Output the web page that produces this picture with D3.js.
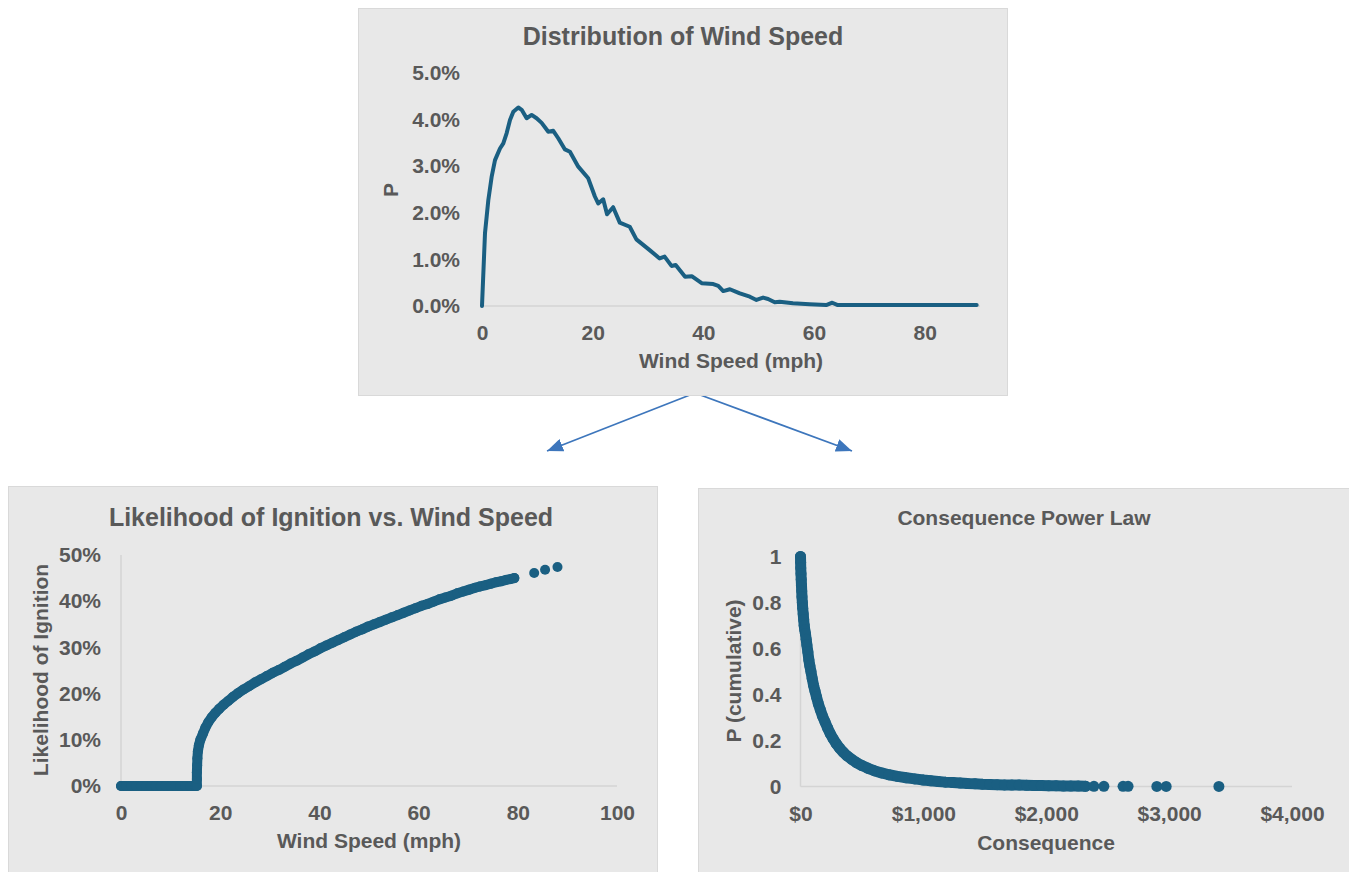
<!DOCTYPE html>
<html>
<head>
<meta charset="utf-8">
<script src="https://cdn.jsdelivr.net/npm/d3@7"></script>
<style>
body { margin: 0; background: #fff; }
svg text { font-family: "Liberation Sans", Arial, sans-serif; font-weight: bold; }
</style>
</head>
<body>
<script>
var w = 1349;
var h = 872;

var textColor = "#595959";
var panelFill = "#e8e8e8";
var panelStroke = "#d9d9d9";
var gridColor = "#d4d4d4";
var markColor = "#1a5f82";
var arrowColor = "#3d76bc";

// distribution of wind speed (P in %)
var windSpeed = [0, 0.54, 1.14, 1.74, 2.35, 3.25, 3.85, 4.46, 5.06, 5.66,
	6.56, 7.17, 8.07, 8.97, 9.87, 10.78, 11.98, 12.88, 13.78, 14.99,
	15.89, 17.4, 19.2, 20.4, 21.0, 21.9, 22.6, 23.7, 24.9, 26.7,
	27.9, 30.3, 32.1, 33.0, 34.25, 35.0, 36.7, 37.9, 39.7, 41.8,
	42.7, 43.6, 44.8, 46.6, 48.4, 49.6, 50.8, 51.7, 52.9, 53.8,
	56.2, 59.2, 62.2, 63.3, 64.3, 68.3, 75, 80, 85, 89.4];
var windP = [0, 1.56, 2.27, 2.77, 3.13, 3.38, 3.49, 3.71, 3.99, 4.17,
	4.26, 4.21, 4.03, 4.10, 4.03, 3.93, 3.74, 3.76, 3.60, 3.36,
	3.31, 2.99, 2.74, 2.35, 2.20, 2.29, 1.97, 2.12, 1.79, 1.70,
	1.43, 1.20, 1.02, 1.06, 0.86, 0.88, 0.63, 0.64, 0.49, 0.47,
	0.43, 0.32, 0.36, 0.27, 0.20, 0.13, 0.18, 0.15, 0.08, 0.09,
	0.06, 0.04, 0.02, 0.07, 0.02, 0.02, 0.02, 0.02, 0.02, 0.02];
var windTicks = [0, 20, 40, 60, 80];
var distTicks = [0, 1, 2, 3, 4, 5];

// likelihood of ignition (%)
var ignitionSpeed = [0, 1, 2, 3, 4, 5, 6, 7, 8, 9, 10, 11, 12, 13, 14, 15,
	15.3, 15.3, 15.3, 15.35, 15.4, 15.5, 15.7,
	16, 16.5, 17, 17.6, 18.3, 19, 19.8, 20.7, 21.6, 22.6,
	23.6, 24.7, 25.8, 27, 28.2, 29.4, 30.6, 31.8, 33, 34.2,
	35.4, 36.6, 37.8, 39, 40.2, 41.4, 42.6, 43.8, 45, 46.2,
	47.4, 48.6, 49.8, 51, 52.2, 53.4, 54.6, 55.8, 57, 58.2,
	59.4, 60.6, 61.8, 63, 64.2, 65.4, 66.6, 67.8, 69, 70.2,
	71.4, 72.4,
	73.6, 74.6, 75.6, 76.6, 77.6, 78.5, 79.3,
	83.3, 85.5, 88];
var ignitionLikelihood = [0, 0, 0, 0, 0, 0, 0, 0, 0, 0, 0, 0, 0, 0, 0, 0,
	0, 1.5, 3, 4.5, 6, 7.5, 8.8,
	10, 11.3, 12.6, 13.8, 14.9, 15.8, 16.7, 17.6, 18.4, 19.3,
	20.1, 20.9, 21.6, 22.4, 23.1, 23.8, 24.5, 25.1, 25.8, 26.5,
	27.1, 27.8, 28.5, 29.1, 29.8, 30.4, 31.0, 31.6, 32.2, 32.8,
	33.4, 33.9, 34.5, 35.0, 35.5, 36.0, 36.5, 37.0, 37.5, 38.0,
	38.5, 39.0, 39.4, 39.9, 40.4, 40.8, 41.2, 41.7, 42.1, 42.5,
	42.9, 43.2,
	43.5, 43.8, 44.1, 44.3, 44.6, 44.8, 45.0,
	46.1, 46.8, 47.4];
var ignitionXTicks = [0, 20, 40, 60, 80, 100];
var ignitionYTicks = [0, 10, 20, 30, 40, 50];
var ignitionDense = 82; // points up to here overlap into a solid band

// consequence power law
var consequence = [0, 1, 2, 4, 6, 8, 10, 12, 15, 18,
	22, 26, 30, 35, 40, 46, 52, 60, 68, 76,
	85, 95, 106, 118, 130, 145, 162, 180, 200, 220,
	242, 265, 290, 318, 348, 380, 415, 455, 500, 550,
	600, 660, 720, 790, 860, 930, 1000, 1060, 1120, 1180,
	1240, 1300, 1360, 1420, 1480, 1540, 1600, 1660, 1720, 1780,
	1840, 1900, 1960, 2020, 2080, 2140, 2200, 2260, 2320, 2388,
	2469, 2625, 2666, 2900, 2976, 3405];
var cumulativeP = [1.00, 0.975, 0.95, 0.925, 0.90, 0.875, 0.85, 0.825, 0.80, 0.775,
	0.75, 0.725, 0.70, 0.68, 0.665, 0.64, 0.615, 0.585, 0.55, 0.525,
	0.50, 0.47, 0.44, 0.415, 0.39, 0.36, 0.333, 0.305, 0.28, 0.255,
	0.23, 0.208, 0.187, 0.167, 0.149, 0.133, 0.119, 0.104, 0.091, 0.079,
	0.069, 0.059, 0.051, 0.044, 0.038, 0.033, 0.028, 0.025, 0.022, 0.019,
	0.017, 0.015, 0.013, 0.012, 0.010, 0.009, 0.008, 0.007, 0.006, 0.006,
	0.005, 0.004, 0.004, 0.003, 0.003, 0.002, 0.002, 0.002, 0.001, 0.001,
	0.001, 0.001, 0.001, 0.0005, 0.0005, 0.0003];
var consequenceTicks = [0, 1000, 2000, 3000, 4000];
var cumulativeTicks = [0, 0.2, 0.4, 0.6, 0.8, 1];
var consequenceDense = 69;

var svg = d3.select("body")
	.append("svg")
	.attr("width", w)
	.attr("height", h);

drawArrows();
drawDistribution();
drawIgnition();
drawPowerLaw();

function panel(x, y, pw, ph) {
	svg.append("rect")
		.attr("x", x + 0.5)
		.attr("y", y + 0.5)
		.attr("width", pw)
		.attr("height", ph)
		.attr("fill", panelFill)
		.attr("stroke", panelStroke);
}

function label(txt, x, y, size, rotate) {
	var t = svg.append("text")
		.attr("text-anchor", "middle")
		.attr("dy", "0.35em")
		.attr("fill", textColor)
		.style("font-size", size + "px")
		.text(txt);
	if (rotate) {
		t.attr("transform", "translate(" + x + "," + y + ") rotate(-90)");
	} else {
		t.attr("x", x).attr("y", y);
	}
}

function styleAxis(g) {
	g.select(".domain").remove();
	g.attr("font-size", 21)
		.attr("font-family", null)
		.attr("color", textColor);
}

function baseLines(xScale, yScale, vertical) {
	var x0 = xScale.range()[0], x1 = xScale.range()[1];
	var y0 = yScale.range()[0], y1 = yScale.range()[1];
	svg.append("line")
		.attr("x1", x0).attr("x2", x1)
		.attr("y1", y0).attr("y2", y0)
		.attr("stroke", gridColor)
		.attr("stroke-width", 1.5);
	if (vertical) {
		svg.append("line")
			.attr("x1", x0).attr("x2", x0)
			.attr("y1", y0).attr("y2", y1)
			.attr("stroke", gridColor)
			.attr("stroke-width", 1.5);
	}
}

// scatter: a solid band where the markers overlap, plus every marker
function scatter(xs, ys, dense, xScale, yScale, r) {
	var band = d3.line()
		.x(function(d, i) { return xScale(xs[i]); })
		.y(function(d) { return yScale(d); });

	svg.append("path")
		.datum(ys.slice(0, dense))
		.attr("d", band)
		.attr("fill", "none")
		.attr("stroke", markColor)
		.attr("stroke-width", r * 2)
		.attr("stroke-linejoin", "round")
		.attr("stroke-linecap", "round");

	svg.append("g")
		.selectAll("circle")
		.data(ys)
		.enter()
		.append("circle")
		.attr("cx", function(d, i) { return xScale(xs[i]); })
		.attr("cy", function(d) { return yScale(d); })
		.attr("r", r)
		.attr("fill", markColor);
}

function drawDistribution() {
	panel(358, 8, 649, 387);

	var xScale = d3.scaleLinear().domain([0, 90]).range([482, 980]);
	var yScale = d3.scaleLinear().domain([0, 5]).range([306, 73]);

	baseLines(xScale, yScale, false);

	svg.append("g")
		.attr("transform", "translate(" + xScale(0) + ",0)")
		.call(d3.axisLeft(yScale)
			.tickValues(distTicks)
			.tickSize(0)
			.tickPadding(22)
			.tickFormat(function(d) { return d.toFixed(1) + "%"; }))
		.call(styleAxis);

	svg.append("g")
		.attr("transform", "translate(0," + yScale(0) + ")")
		.call(d3.axisBottom(xScale)
			.tickValues(windTicks)
			.tickSize(0)
			.tickPadding(19))
		.call(styleAxis);

	var line = d3.line()
		.x(function(d, i) { return xScale(windSpeed[i]); })
		.y(function(d) { return yScale(d); });

	svg.append("path")
		.datum(windP)
		.attr("d", line)
		.attr("fill", "none")
		.attr("stroke", markColor)
		.attr("stroke-width", 4)
		.attr("stroke-linejoin", "round")
		.attr("stroke-linecap", "round");

	label("Distribution of Wind Speed", 683, 36, 25);
	label("Wind Speed (mph)", 731, 361, 21);
	label("P", 391, 190, 21, true);
}

function drawIgnition() {
	panel(8, 486, 649, 400);

	var xScale = d3.scaleLinear().domain([0, 100]).range([121, 617]);
	var yScale = d3.scaleLinear().domain([0, 50]).range([786, 555]);

	baseLines(xScale, yScale, true);

	svg.append("g")
		.attr("transform", "translate(" + xScale(0) + ",0)")
		.call(d3.axisLeft(yScale)
			.tickValues(ignitionYTicks)
			.tickSize(0)
			.tickPadding(20)
			.tickFormat(function(d) { return d + "%"; }))
		.call(styleAxis);

	svg.append("g")
		.attr("transform", "translate(0," + yScale(0) + ")")
		.call(d3.axisBottom(xScale)
			.tickValues(ignitionXTicks)
			.tickSize(0)
			.tickPadding(19))
		.call(styleAxis);

	scatter(ignitionSpeed, ignitionLikelihood, ignitionDense, xScale, yScale, 5);

	label("Likelihood of Ignition vs. Wind Speed", 331, 517, 25);
	label("Wind Speed (mph)", 369, 841, 21);
	label("Likelihood of Ignition", 41, 670, 21, true);
}

function drawPowerLaw() {
	panel(698, 488, 660, 400);

	var xScale = d3.scaleLinear().domain([0, 4000]).range([800.5, 1292]);
	var yScale = d3.scaleLinear().domain([0, 1]).range([786.5, 556.5]);

	baseLines(xScale, yScale, true);

	svg.append("g")
		.attr("transform", "translate(" + xScale(0) + ",0)")
		.call(d3.axisLeft(yScale)
			.tickValues(cumulativeTicks)
			.tickSize(0)
			.tickPadding(19)
			.tickFormat(d3.format("~g")))
		.call(styleAxis);

	svg.append("g")
		.attr("transform", "translate(0," + yScale(0) + ")")
		.call(d3.axisBottom(xScale)
			.tickValues(consequenceTicks)
			.tickSize(0)
			.tickPadding(20)
			.tickFormat(d3.format("$,")))
		.call(styleAxis);

	scatter(consequence, cumulativeP, consequenceDense, xScale, yScale, 5.5);

	label("Consequence Power Law", 1024, 518, 21);
	label("Consequence", 1046, 843, 21);
	label("P (cumulative)", 734, 671, 21, true);
}

function drawArrows() {
	svg.append("defs")
		.append("marker")
		.attr("id", "head")
		.attr("viewBox", "0 0 10 10")
		.attr("refX", 10)
		.attr("refY", 5)
		.attr("markerUnits", "userSpaceOnUse")
		.attr("markerWidth", 16)
		.attr("markerHeight", 13)
		.attr("preserveAspectRatio", "none")
		.attr("orient", "auto")
		.append("path")
		.attr("d", "M0,0 L10,5 L0,10 z")
		.attr("fill", arrowColor);

	[[547, 451], [852, 451]].forEach(function(tip) {
		svg.append("line")
			.attr("x1", 695).attr("y1", 393)
			.attr("x2", tip[0]).attr("y2", tip[1])
			.attr("stroke", arrowColor)
			.attr("stroke-width", 1.7)
			.attr("marker-end", "url(#head)");
	});
}
</script>
</body>
</html>
